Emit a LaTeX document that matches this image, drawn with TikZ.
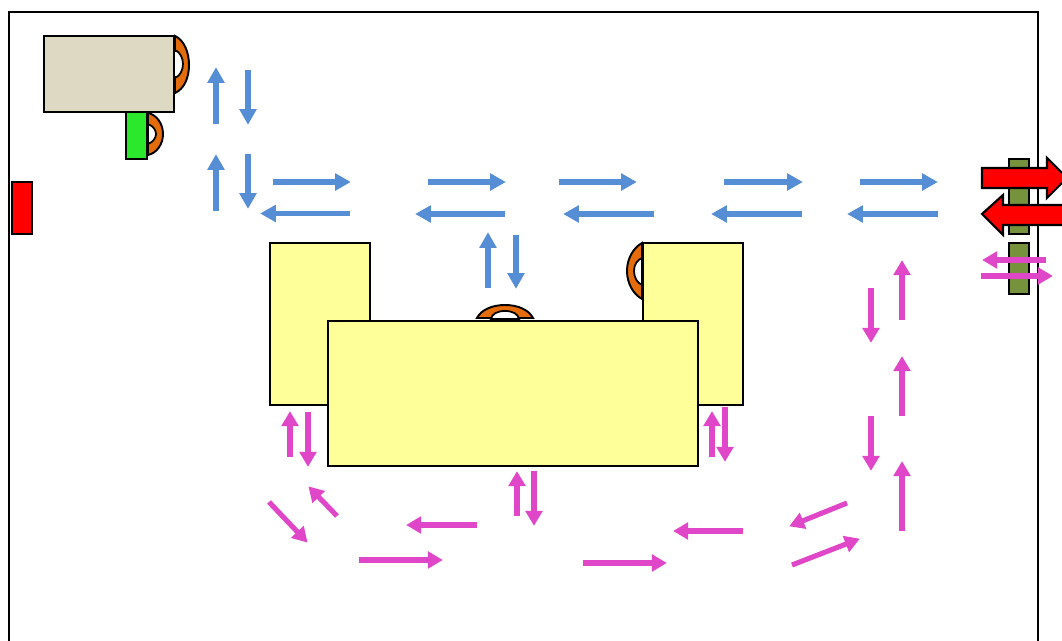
\documentclass[tikz,border=0pt]{standalone}
\usepackage{xcolor}
\usetikzlibrary{arrows.meta}
\definecolor{flowBlue}{HTML}{558ED5}
\definecolor{flowPink}{HTML}{E046C8}
\definecolor{doorOrange}{HTML}{E46C0A}
\definecolor{roomYellow}{HTML}{FFFF99}
\definecolor{roomBeige}{HTML}{DDD9C3}
\definecolor{roomGreen}{HTML}{2CE82C}
\definecolor{roomOlive}{HTML}{76923C}
\tikzset{
  room/.style={draw=black,line width=1.1pt,fill=#1},
  door/.style={draw=black,line width=1.1pt,fill=doorOrange},
  doorhole/.style={draw=black,line width=1pt,fill=white},
  flowblue/.style={draw=flowBlue,line width=2.9pt,shorten >=-0.5pt,-{Triangle[length=9pt,width=9.4pt]}},
  flowpink/.style={draw=flowPink,line width=2.9pt,shorten >=-0.5pt,-{Triangle[length=8.5pt,width=9.4pt]}},
  bigarrow/.style={draw=black,line width=1.2pt,fill=red,line join=miter}
}
\begin{document}
\begin{tikzpicture}[x=0.02cm,y=-0.02cm]
      \clip (0,0) rectangle (1062,641);
      \fill[white] (0,0) rectangle (1062,641);
      \draw[line width=1.1pt] (9,660) -- (9,12) -- (1038,12) -- (1038,660);
      % rooms
      \draw[room=roomBeige] (44,36) rectangle (174,112);
      \draw[room=roomGreen] (126,112) rectangle (147,159);
      \draw[room=red] (12,182) rectangle (32,234);
      \draw[room=roomOlive] (1009,159) rectangle (1029,234);
      \draw[room=roomOlive] (1009,243) rectangle (1029,294);
      \draw[room=roomYellow] (270,243) rectangle (370,405);
      \draw[room=roomYellow] (643,243) rectangle (743,405);
      % doors
      \draw[door] (175,36) .. controls (184,40) and (189,52) .. (189,65) .. controls (189,78) and (184,89) .. (175,93) -- cycle;
      \draw[doorhole] (175,50) .. controls (180,52) and (183,58) .. (183,64) .. controls (183,70) and (180,76) .. (175,78) -- cycle;
      \draw[line width=1.6pt] (175,36) -- (175,93);
      \fill[white] (174.8,52) rectangle (176,76);
      \draw[door] (148,113) .. controls (157,115) and (163,124) .. (163,134) .. controls (163,144) and (157,153) .. (148,155) -- cycle;
      \draw[doorhole] (148,124) .. controls (153,126) and (156,130) .. (156,134) .. controls (156,138) and (153,142) .. (148,144) -- cycle;
      \draw[door] (642,243) .. controls (633,248) and (627,259) .. (627,271) .. controls (627,283) and (633,294) .. (642,299) -- cycle;
      \draw[doorhole] (642,258) .. controls (637,260) and (634,265) .. (634,271) .. controls (634,277) and (637,283) .. (642,285) -- cycle;
      \draw[door] (477,318) .. controls (481,310) and (492,305) .. (505,305) .. controls (518,305) and (529,310) .. (533,318) -- cycle;
      \draw[doorhole] (491,319) .. controls (492,314) and (497,311) .. (505,311) .. controls (513,311) and (518,314) .. (519,319) -- cycle;
      \draw[room=roomYellow] (328,321) rectangle (698,466);
      % exit arrows
      \draw[bigarrow] (982,168) -- (1047,168) -- (1047,158) -- (1067,178) -- (1047,198) -- (1047,188) -- (982,188) -- cycle;
      \draw[bigarrow] (1075,205) -- (1003,205) -- (1003,195) -- (982,214) -- (1003,235) -- (1003,225) -- (1075,225) -- cycle;
      % supply
      \draw[flowblue] (216,124) -- (216,68);
      \draw[flowblue] (248,70) -- (248,124);
      \draw[flowblue] (216,211) -- (216,155);
      \draw[flowblue] (248,154) -- (248,208);
      \draw[flowblue] (273,182) -- (350,182);
      \draw[flowblue] (350,213.5) -- (261,213.5);
      \draw[flowblue] (428,182) -- (505,182);
      \draw[flowblue] (505,214) -- (416,214);
      \draw[flowblue] (559,182) -- (636,182);
      \draw[flowblue] (654,214) -- (564,214);
      \draw[flowblue] (724,182) -- (802,182);
      \draw[flowblue] (802,214) -- (712,214);
      \draw[flowblue] (860,182) -- (937,182);
      \draw[flowblue] (938,214) -- (848,214);
      \draw[flowblue] (488,288) -- (488,233);
      \draw[flowblue] (516,235) -- (516,288);
      % return
      \draw[flowpink] (902,320) -- (902,261);
      \draw[flowpink] (871,288) -- (871,342);
      \draw[flowpink] (902,416) -- (902,357);
      \draw[flowpink] (871,416) -- (871,470);
      \draw[flowpink] (902,531) -- (902,462);
      \draw[flowpink] (847,503) -- (790,526);
      \draw[flowpink] (792,565) -- (859,539);
      \draw[flowpink] (743,531) -- (674,531);
      \draw[flowpink] (583,563) -- (666,563);
      \draw[flowpink] (477,525) -- (407,525);
      \draw[flowpink] (359,560) -- (442,560);
      \draw[flowpink] (337,516) -- (309,487);
      \draw[flowpink] (269,502) -- (307,542);
      \draw[flowpink] (290,457) -- (290,412);
      \draw[flowpink] (308,412) -- (308,466);
      \draw[flowpink] (517,516) -- (517,472);
      \draw[flowpink] (534,471) -- (534,525);
      \draw[flowpink] (712,457) -- (712,412);
      \draw[flowpink] (725,407) -- (725,461);
      \draw[flowpink] (1046,260) -- (983,260);
      \draw[flowpink] (981,276) -- (1052,276);
\end{tikzpicture}
\end{document}
